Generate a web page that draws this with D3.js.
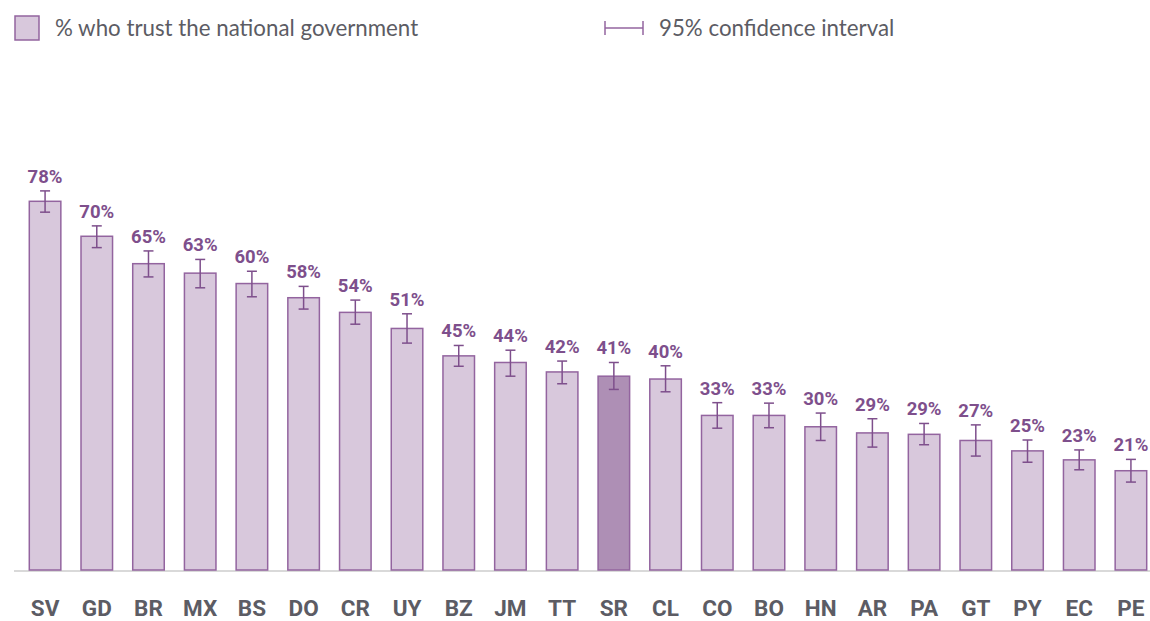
<!DOCTYPE html>
<html>
<head>
<meta charset="utf-8">
<script src="https://cdn.jsdelivr.net/npm/d3@7"></script>
<style>
  body { margin: 0; background: #fff; }
  svg { display: block; }
</style>
</head>
<body>
<div id="chart"></div>
<script>
// country codes, share who trust the national government, 95% CI bounds
var countries = ["SV","GD","BR","MX","BS","DO","CR","UY","BZ","JM","TT","SR","CL","CO","BO","HN","AR","PA","GT","PY","EC","PE"];
var trust   = [78.0, 70.6, 64.8, 62.8, 60.6, 57.6, 54.5, 51.1, 45.3, 43.9, 41.9, 41.0, 40.4, 32.7, 32.7, 30.3, 29.0, 28.7, 27.4, 25.2, 23.3, 21.0];
var ciLow   = [75.7, 68.2, 62.0, 59.7, 57.8, 55.2, 52.0, 48.0, 43.1, 41.0, 39.4, 38.2, 37.7, 30.0, 30.1, 27.4, 26.0, 26.5, 24.1, 22.8, 21.2, 18.6];
var ciHigh  = [80.2, 72.8, 67.5, 65.7, 63.2, 60.0, 57.1, 54.2, 47.5, 46.5, 44.2, 43.9, 43.2, 35.4, 35.3, 33.2, 32.0, 31.0, 30.7, 27.5, 25.4, 23.4];
var labels  = ["78%","70%","65%","63%","60%","58%","54%","51%","45%","44%","42%","41%","40%","33%","33%","30%","29%","29%","27%","25%","23%","21%"];
var highlight = "SR";

var W = 1150, H = 621;
var base = 570;

var data = countries.map(function(c, i) {
  return {code: c, v: trust[i], lo: ciLow[i], hi: ciHigh[i], label: labels[i]};
});

var svg = d3.select("#chart").append("svg")
    .attr("width", W)
    .attr("height", H);

var x = d3.scaleBand()
    .domain(countries)
    .range([29.3, 1146.7])
    .paddingInner(0.39)
    .paddingOuter(0);

var y = d3.scaleLinear()
    .domain([0, 100])
    .range([base, base - 472.7]);

// baseline
svg.append("line")
    .attr("x1", 14).attr("x2", 1150)
    .attr("y1", base + 1).attr("y2", base + 1)
    .attr("stroke", "#cdcdcd")
    .attr("stroke-width", 1.5);

// bars
svg.selectAll("rect.bar")
    .data(data)
  .enter().append("rect")
    .attr("class", "bar")
    .attr("x", function(d) { return x(d.code); })
    .attr("y", function(d) { return y(d.v); })
    .attr("width", x.bandwidth())
    .attr("height", function(d) { return y(0) - y(d.v); })
    .attr("fill", function(d) { return d.code == highlight ? "#ae8fb5" : "#d8c8dc"; })
    .attr("stroke", "#93649f")
    .attr("stroke-width", 1.5);

// error bars
var cw = 5;
var eb = svg.selectAll("g.ci")
    .data(data)
  .enter().append("g")
    .attr("class", "ci")
    .attr("stroke", "#7e4f8c")
    .attr("stroke-width", 1.5);

eb.append("line")
    .attr("x1", function(d) { return x(d.code) + x.bandwidth() / 2; })
    .attr("x2", function(d) { return x(d.code) + x.bandwidth() / 2; })
    .attr("y1", function(d) { return y(d.hi); })
    .attr("y2", function(d) { return y(d.lo); });
eb.append("line")
    .attr("x1", function(d) { return x(d.code) + x.bandwidth() / 2 - cw; })
    .attr("x2", function(d) { return x(d.code) + x.bandwidth() / 2 + cw; })
    .attr("y1", function(d) { return y(d.hi); })
    .attr("y2", function(d) { return y(d.hi); });
eb.append("line")
    .attr("x1", function(d) { return x(d.code) + x.bandwidth() / 2 - cw; })
    .attr("x2", function(d) { return x(d.code) + x.bandwidth() / 2 + cw; })
    .attr("y1", function(d) { return y(d.lo); })
    .attr("y2", function(d) { return y(d.lo); });

// value labels
svg.selectAll("text.val")
    .data(data)
  .enter().append("text")
    .attr("class", "val")
    .attr("x", function(d) { return x(d.code) + x.bandwidth() / 2; })
    .attr("y", function(d) { return y(d.hi) - 8; })
    .attr("text-anchor", "middle")
    .attr("font-family", "Roboto, sans-serif")
    .attr("font-weight", "bold")
    .attr("font-size", "18.5px")
    .attr("fill", "#7e4f8c")
    .text(function(d) { return d.label; });

// category axis
var xAxis = svg.append("g")
    .attr("transform", "translate(0," + base + ")")
    .call(d3.axisBottom(x).tickSize(0).tickPadding(30));
xAxis.select(".domain").remove();
xAxis.selectAll("text")
    .attr("font-family", "Roboto, sans-serif")
    .attr("font-weight", "bold")
    .attr("font-size", "22.5px")
    .attr("fill", "#5c5c64");

// legend
var leg = svg.append("g");
leg.append("rect")
    .attr("x", 15).attr("y", 16)
    .attr("width", 24).attr("height", 24)
    .attr("fill", "#d8c8dc")
    .attr("stroke", "#93649f")
    .attr("stroke-width", 1.5);
leg.append("text")
    .attr("x", 55).attr("y", 36)
    .attr("font-family", "Lato, sans-serif")
    .attr("font-size", "22.3px")
    .attr("fill", "#5c5c64")
    .text("% who trust the national government");

var ci = leg.append("g")
    .attr("stroke", "#93649f")
    .attr("stroke-width", 1.5);
ci.append("line").attr("x1", 605).attr("x2", 605).attr("y1", 21).attr("y2", 35);
ci.append("line").attr("x1", 643).attr("x2", 643).attr("y1", 21).attr("y2", 35);
ci.append("line").attr("x1", 605).attr("x2", 643).attr("y1", 28).attr("y2", 28);
leg.append("text")
    .attr("x", 659).attr("y", 36)
    .attr("font-family", "Lato, sans-serif")
    .attr("font-size", "22.3px")
    .attr("fill", "#5c5c64")
    .text("95% confidence interval");
</script>
</body>
</html>
